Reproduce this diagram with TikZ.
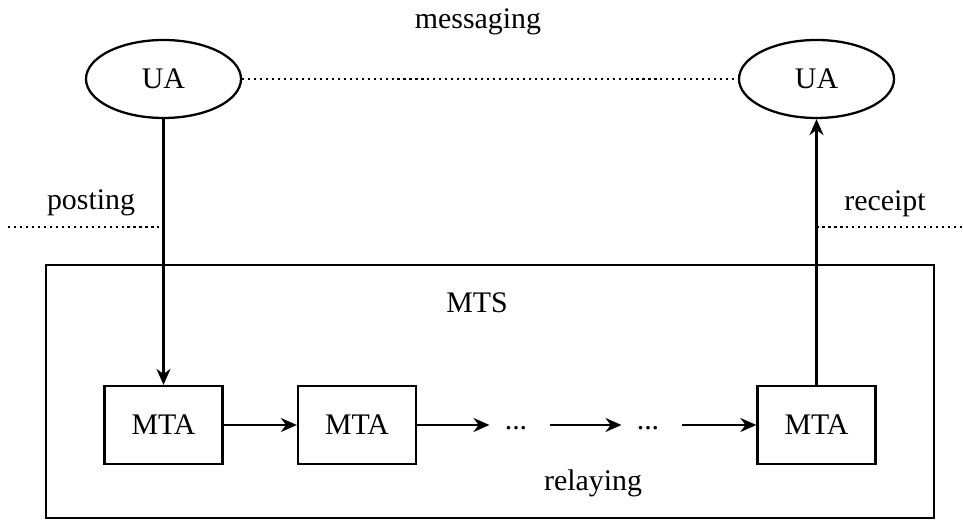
\documentclass[tikz,border=0pt]{standalone}
\usepackage{fontspec}
\setmainfont{Liberation Serif}
\usepackage{tikz}
\usetikzlibrary{arrows.meta, positioning, shapes.geometric, calc}

\begin{document}
\begin{tikzpicture}[
  every node/.style={font=\fontsize{17}{20}\selectfont},
  agent/.style={draw, ellipse, line width=1.3pt, minimum width=3.1cm, minimum height=1.56cm, inner sep=0pt},
  mta/.style={draw, line width=1.3pt, minimum width=2.36cm, minimum height=1.56cm, inner sep=0pt},
  gap/.style={inner xsep=0.3cm, inner ysep=0pt, text height=0.6ex, text depth=0pt},
  arrow/.style={-{Stealth[length=3.2mm, width=2.8mm]}, line width=1.3pt},
  dotline/.style={line width=1.3pt, dash pattern=on 1.2pt off 2.2pt},
  label/.style={inner sep=1pt}
]
  \useasboundingbox (0,0) rectangle (19.26,10.4);

  % Utenti in alto
  \node[agent] (ua1) at (3.27, 8.82) {UA};
  \node[agent] (ua2) at (16.33, 8.82) {UA};
  \node[label] (msg) at (9.56, 9.96) {messaging};
  \draw[dotline] (ua1) -- (ua2);

  % Sistema di trasferimento
  \node[draw, line width=1.3pt, minimum width=17.76cm, minimum height=5.06cm, inner sep=0pt] (mts) at (9.8, 2.57) {};
  \node[label] (mtslbl) at (9.54, 4.34) {MTS};

  \node[mta] (m1) at (3.27, 1.9) {MTA};
  \node[mta] (m2) at (7.14, 1.9) {MTA};
  \node[gap] (d1) at (10.32, 1.86) {...};
  \node[gap] (d2) at (12.96, 1.86) {...};
  \node[mta] (m3) at (16.33, 1.9) {MTA};
  \node[label] (rel) at (11.86, 0.74) {relaying};

  % Confini di invio e ricezione
  \node[label] (post) at (1.82, 6.34) {posting};
  \node[label] (rcpt) at (17.7, 6.32) {receipt};
  \coordinate (postL) at (0.16, 5.86);
  \coordinate (rcptR) at (19.26, 5.86);

  \draw[arrow] (ua1) -- (m1);
  \draw[arrow] (m3) -- (ua2);
  \draw[dotline] (postL) -- (postL -| ua1.south);
  \draw[dotline] (rcptR -| ua2.south) -- (rcptR);

  \draw[arrow] (m1) -- (m2);
  \draw[arrow] (m2.east) -- (d1.west |- m2.east);
  \draw[arrow, shorten <=0.15cm] (d1.east |- m2.east) -- (d2.west |- m2.east);
  \draw[arrow, shorten <=0.15cm] (d2.east |- m3.west) -- (m3.west);

\end{tikzpicture}
\end{document}
